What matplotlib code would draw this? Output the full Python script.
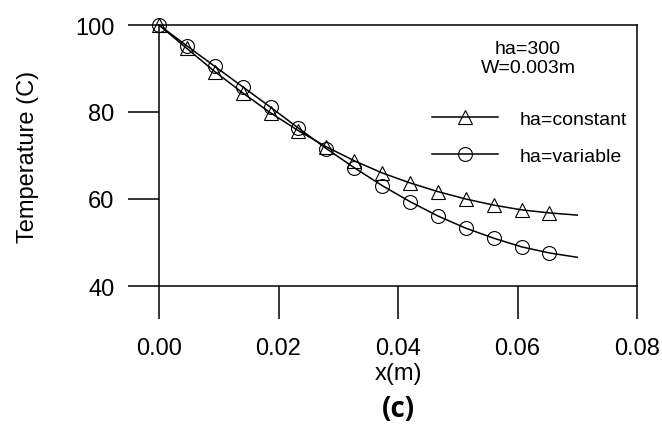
import matplotlib
matplotlib.use("Agg")
import matplotlib.pyplot as plt

# Distance along the fin (m)
x_m = [0.0, 0.00467, 0.00933, 0.014, 0.01867, 0.02333, 0.028, 0.03267,
       0.03733, 0.042, 0.04667, 0.05133, 0.056, 0.06067, 0.06533, 0.07]

# Temperature profiles (C)
t_const = [100.0, 94.6, 89.3, 84.4, 79.8, 75.7, 72.0, 68.8,
           66.0, 63.7, 61.7, 60.0, 58.6, 57.5, 56.8, 56.3]
t_var = [100.0, 95.2, 90.5, 85.8, 81.1, 76.3, 71.6, 67.2,
         63.1, 59.4, 56.1, 53.3, 51.0, 49.0, 47.6, 46.6]

x_ticks = [0.00, 0.02, 0.04, 0.06, 0.08]
x_tick_labels = ["0.00", "0.02", "0.04", "0.06", "0.08"]
y_ticks = [40, 60, 80, 100]

plt.rcParams["font.family"] = ["Liberation Sans", "DejaVu Sans"]

fig = plt.figure(figsize=(6.62, 4.31), dpi=100)
ax = fig.add_axes([159 / 662, 1 - 287 / 431, 478 / 662, 261 / 431])

marker_kw = dict(markerfacecolor="none", markeredgecolor="black",
                 markeredgewidth=0.8, color="black", linewidth=1.1,
                 markevery=list(range(15)), clip_on=False)
ax.plot(x_m, t_const, marker="^", markersize=9.5, label="ha=constant", **marker_kw)
ax.plot(x_m, t_var, marker="o", markersize=10, label="ha=variable", **marker_kw)

ax.set_xlim(0.0, 0.08)
ax.set_ylim(40, 100)
ax.set_xticks(x_ticks)
ax.set_xticklabels(x_tick_labels)
ax.set_yticks(y_ticks)

for s in ax.spines.values():
    s.set_linewidth(1.1)
ax.tick_params(axis="both", direction="out", width=1.1, labelsize=17)
ax.tick_params(axis="y", length=22, pad=10)
ax.tick_params(axis="x", length=24, pad=13)

ax.set_xlabel("x(m)", fontsize=17, labelpad=2)
ax.set_ylabel("Temperature (C)", fontsize=17, labelpad=26)

ax.text((528 - 159) / 478, (287 - 59) / 261, "ha=300\nW=0.003m", transform=ax.transAxes,
        ha="center", va="center", fontsize=14, linespacing=1.15)

ax.legend(loc="upper left", bbox_to_anchor=((432 - 159) / 478, (287 - 111) / 261),
          frameon=False, fontsize=14, handlelength=3.4, handletextpad=1.1,
          labelspacing=1.0, borderpad=0, borderaxespad=0)

fig.text(ax.get_position().x0 + ax.get_position().width / 2, 1 - 410 / 431, "(c)",
         ha="center", va="center", fontsize=20, fontweight="bold",
         family=["Open Sans", "DejaVu Sans"])

fig.savefig("out.png", dpi=100)
